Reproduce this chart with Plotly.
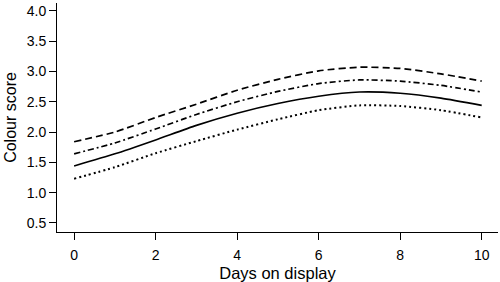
import plotly.graph_objects as go

days = [0, 1, 2, 3, 4, 5, 6, 7, 8, 9, 10]
upper_dashed = [1.84, 2.00, 2.24, 2.46, 2.69, 2.87, 3.01, 3.07, 3.05, 2.96, 2.84]
dash_dot = [1.64, 1.82, 2.05, 2.29, 2.50, 2.67, 2.80, 2.86, 2.84, 2.77, 2.66]
solid = [1.44, 1.64, 1.87, 2.11, 2.31, 2.47, 2.59, 2.66, 2.64, 2.56, 2.44]
dotted = [1.23, 1.42, 1.65, 1.85, 2.04, 2.21, 2.36, 2.44, 2.43, 2.36, 2.24]

x_ticks = [0, 2, 4, 6, 8, 10]
y_ticks = [0.5, 1.0, 1.5, 2.0, 2.5, 3.0, 3.5, 4.0]

fig = go.Figure()
for vals, dash, w in [(upper_dashed, "7px,4px", 1.7), (dash_dot, "6px,3px,2px,3px", 1.7),
                      (solid, "solid", 1.6), (dotted, "2px,3px", 2.0)]:
    fig.add_trace(go.Scatter(x=days, y=vals, mode="lines",
                             line=dict(color="black", width=w, dash=dash, shape="spline", smoothing=0.6),
                             showlegend=False, hoverinfo="skip"))

fig.update_layout(
    width=500, height=282,
    margin=dict(l=57, r=2, t=3, b=50),
    plot_bgcolor="white", paper_bgcolor="white",
    font=dict(family="Liberation Sans, Arial, sans-serif", size=14, color="black"),
)
fig.update_xaxes(range=[-0.42, 10.4], tickvals=x_ticks, ticktext=[str(t) for t in x_ticks],
                 showline=True, linecolor="black", linewidth=1, ticks="outside", ticklen=7,
                 tickcolor="black", showgrid=False, zeroline=False, automargin=False,
                 ticklabelstandoff=3,
                 title=dict(text="Days on display", font=dict(size=16.5), standoff=6))
fig.update_yaxes(range=[0.35, 4.13], tickvals=y_ticks, ticktext=[f"{t:.1f}" for t in y_ticks],
                 showline=True, linecolor="black", linewidth=1, ticks="outside", ticklen=7,
                 tickcolor="black", showgrid=False, zeroline=False, automargin=False,
                 title=dict(text="Colour score", font=dict(size=16), standoff=6))

fig.write_html("out.html", config={"displayModeBar": False},
               post_script="document.body.style.margin='0';document.body.style.overflow='hidden';")
